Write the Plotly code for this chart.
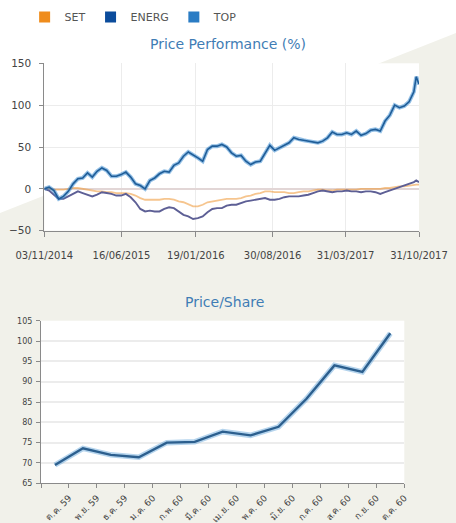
import plotly.graph_objects as go

W, H = 456, 523

# ---------------- data: Price Performance (%) ----------------
perf_dates = [
    "2014-11-03", "2014-11-17", "2014-12-01", "2014-12-15", "2014-12-29",
    "2015-01-12", "2015-01-26", "2015-02-09", "2015-02-23", "2015-03-09",
    "2015-03-23", "2015-04-06", "2015-04-20", "2015-05-04", "2015-05-18",
    "2015-06-01", "2015-06-15", "2015-06-29", "2015-07-13", "2015-07-27",
    "2015-08-10", "2015-08-24", "2015-09-07", "2015-09-21", "2015-10-05",
    "2015-10-19", "2015-11-02", "2015-11-16", "2015-11-30", "2015-12-14",
    "2015-12-28", "2016-01-11", "2016-01-25", "2016-02-08", "2016-02-22",
    "2016-03-07", "2016-03-21", "2016-04-04", "2016-04-18", "2016-05-02",
    "2016-05-16", "2016-05-30", "2016-06-13", "2016-06-27", "2016-07-11",
    "2016-07-25", "2016-08-08", "2016-08-22", "2016-09-05", "2016-09-19",
    "2016-10-03", "2016-10-17", "2016-10-31", "2016-11-14", "2016-11-28",
    "2016-12-12", "2016-12-26", "2017-01-09", "2017-01-23", "2017-02-06",
    "2017-02-20", "2017-03-06", "2017-03-20", "2017-04-03", "2017-04-17",
    "2017-05-01", "2017-05-15", "2017-05-29", "2017-06-12", "2017-06-26",
    "2017-07-10", "2017-07-24", "2017-08-07", "2017-08-21", "2017-09-04",
    "2017-09-18", "2017-10-02", "2017-10-16", "2017-10-23", "2017-10-31",
]
top_vals = [
    0, 2, -2, -12, -9, -3, 6, 12, 13, 19,
    14, 21, 25, 22, 15, 15, 17, 20, 14, 6,
    4, 0, 10, 13, 18, 21, 20, 28, 31, 39,
    44, 41, 37, 33, 47, 51, 51, 53, 50, 43,
    39, 40, 33, 29, 32, 33, 42, 52, 46, 49,
    52, 55, 61, 59, 58, 57, 56, 55, 57, 61,
    68, 65, 65, 67, 65, 69, 64, 66, 70, 71,
    69, 81, 88, 100, 97, 99, 104, 116, 134, 125,
]
energ_vals = [
    0, -2, -7, -12, -12, -9, -6, -3, -5, -7,
    -9, -7, -4, -5, -6, -8, -8, -6, -10, -16,
    -24, -27, -26, -27, -27, -24, -22, -23, -27, -31,
    -33, -36, -35, -33, -28, -24, -23, -23, -20, -19,
    -19, -17, -15, -14, -13, -12, -11, -13, -13, -12,
    -10, -9, -9, -9, -8, -7, -5, -3, -2, -3,
    -4, -3, -3, -2, -3, -3, -4, -3, -3, -4,
    -6, -4, -2, 0, 2, 4, 6, 8, 10, 8,
]
set_vals = [
    0, 0, -1, -1, -1, 0, 1, 1, 0, -1,
    -2, -3, -3, -4, -4, -5, -5, -5, -6, -8,
    -11, -13, -13, -13, -13, -12, -12, -13, -15, -16,
    -19, -21, -21, -19, -16, -15, -14, -13, -12, -12,
    -12, -11, -9, -8, -6, -5, -3, -3, -4, -4,
    -4, -5, -5, -4, -3, -3, -2, -1, -1, -2,
    -2, -1, -1, -1, -1, -1, 0, 0, 0, 0,
    0, 1, 1, 2, 3, 3, 4, 5, 5, 5,
]
perf_tick_dates = ["2014-11-03", "2015-06-16", "2016-01-19",
                   "2016-08-30", "2017-03-31", "2017-10-31"]
perf_tick_text = ["03/11/2014", "16/06/2015", "19/01/2016",
                  "30/08/2016", "31/03/2017", "31/10/2017"]

# ---------------- data: Price/Share ----------------
months = ["ต.ค. 59", "พ.ย. 59", "ธ.ค. 59", "ม.ค. 60", "ก.พ. 60", "มี.ค. 60",
          "เม.ย. 60", "พ.ค. 60", "มิ.ย. 60", "ก.ค. 60", "ส.ค. 60", "ก.ย. 60",
          "ต.ค. 60"]
price_vals = [69.5, 73.6, 72.0, 71.4, 75.0, 75.2, 77.7, 76.8, 78.9,
              85.8, 94.0, 92.4, 101.9]

# ---------------- styling ----------------
FONT = "DejaVu Sans, Noto Sans, sans-serif"
SET_C, ENERG_C, TOP_C = "#ef8c1c", "#0b4c9c", "#2a7cc4"
TITLE_C = "#3f7db5"
GRID_C = "#ececec"
AXIS_C = "#8a8a8a"
BEIGE = "#f1f1ea"

fig = go.Figure()

# performance lines
fig.add_trace(go.Scatter(x=perf_dates, y=set_vals, mode="lines",
                         line=dict(color="rgba(239,150,50,0.55)", width=1.8),
                         showlegend=False, hoverinfo="skip"))
fig.add_trace(go.Scatter(x=perf_dates, y=energ_vals, mode="lines",
                         line=dict(color="#5d5f95", width=1.9),
                         showlegend=False, hoverinfo="skip"))
fig.add_trace(go.Scatter(x=perf_dates, y=top_vals, mode="lines",
                         line=dict(color="rgba(60,140,210,0.55)", width=4),
                         showlegend=False, hoverinfo="skip"))
fig.add_trace(go.Scatter(x=perf_dates, y=top_vals, mode="lines",
                         line=dict(color="#1f5d98", width=1.6),
                         showlegend=False, hoverinfo="skip"))

# legend entries (square swatches)
for name, col in [("SET", SET_C), ("ENERG", ENERG_C), ("TOP", TOP_C)]:
    fig.add_trace(go.Scatter(x=[None], y=[None], mode="markers", name=name,
                             marker=dict(symbol="square", size=11, color=col),
                             showlegend=True))

# price/share line
idx = list(range(len(months)))
fig.add_trace(go.Scatter(x=idx, y=price_vals, mode="lines", xaxis="x2", yaxis="y2",
                         line=dict(color="rgba(90,160,215,0.45)", width=5.5),
                         showlegend=False, hoverinfo="skip"))
fig.add_trace(go.Scatter(x=idx, y=price_vals, mode="lines", xaxis="x2", yaxis="y2",
                         line=dict(color="#2c5f8e", width=2.4),
                         showlegend=False, hoverinfo="skip"))

bound_vals = [i - 0.5 for i in range(len(months) + 1)]
bound_text = [""] + months

fig.update_layout(
    width=W, height=H,
    margin=dict(l=0, r=0, t=0, b=0, autoexpand=False),
    paper_bgcolor=BEIGE,
    plot_bgcolor="white",
    font=dict(family=FONT, color="#505050", size=10),
    showlegend=True,
    legend=dict(orientation="h", x=0.054, y=0.995, xanchor="left", yanchor="top",
                font=dict(size=11, color="#555555", family=FONT),
                bgcolor="rgba(0,0,0,0)", itemclick=False, itemdoubleclick=False,
                tracegroupgap=0),
    xaxis=dict(domain=[44.3 / W, 419 / W], anchor="y", type="date",
               range=["2014-11-03", "2017-10-31"], automargin=False,
               tickvals=perf_tick_dates, ticktext=perf_tick_text,
               tickfont=dict(size=10, color="#444444"),
               showgrid=True, gridcolor=GRID_C, gridwidth=1,
               showline=True, linecolor=AXIS_C, linewidth=1,
               ticks="outside", ticklen=5, tickcolor=AXIS_C, tickwidth=1,
               ticklabelstandoff=10, zeroline=False, fixedrange=True),
    yaxis=dict(domain=[1 - 230.7 / H, 1 - 63.3 / H], anchor="x",
               range=[-50, 150], tickvals=[-50, 0, 50, 100, 150],
               automargin=False, ticklabelstandoff=6,
               tickfont=dict(size=10.5, color="#444444"),
               showgrid=True, gridcolor=GRID_C, gridwidth=1,
               zeroline=True, zerolinecolor="#e2d6d6", zerolinewidth=1.5,
               showline=True, linecolor=AXIS_C, linewidth=1,
               ticks="outside", ticklen=4, tickcolor=AXIS_C, fixedrange=True),
    xaxis2=dict(domain=[41 / W, 404.3 / W], anchor="y2",
                range=[-0.5, len(months) - 0.5], automargin=False,
                tickvals=bound_vals, ticktext=bound_text, tickangle=-45,
                tickfont=dict(size=9, color="#444444"), ticklabelstandoff=1,
                showgrid=False, zeroline=False,
                showline=True, linecolor=AXIS_C, linewidth=1,
                ticks="outside", ticklen=4, tickcolor=AXIS_C, fixedrange=True),
    yaxis2=dict(domain=[1 - 483.3 / H, 1 - 320.7 / H], anchor="x2",
                range=[65, 105], dtick=5, automargin=False, ticklabelstandoff=2,
                tickfont=dict(size=8, color="#444444"),
                showgrid=True, gridcolor=GRID_C, gridwidth=1.5, zeroline=False,
                showline=True, linecolor=AXIS_C, linewidth=1,
                ticks="outside", ticklen=4, tickcolor=AXIS_C, fixedrange=True),
    shapes=[
        # white diagonal backdrop behind the upper chart
        dict(type="path", xref="paper", yref="paper", layer="below",
             path="M 0 1 L 1 1 L 1 {:.4f} L 0 {:.4f} Z".format(1 - 33 / H, 1 - 213 / H),
             fillcolor="white", line=dict(width=0)),
    ],
    annotations=[
        dict(text="Price Performance (%)", xref="paper", yref="paper",
             x=228 / W, y=1 - 44 / H, xanchor="center", yanchor="middle",
             showarrow=False, font=dict(size=14, color=TITLE_C, family=FONT)),
        dict(text="Price/Share", xref="paper", yref="paper",
             x=224 / W, y=1 - 302 / H, xanchor="center", yanchor="middle",
             showarrow=False, font=dict(size=14, color=TITLE_C, family=FONT)),
    ],
)

fig.write_html(
    "out.html",
    config={"displayModeBar": False, "responsive": False},
    post_script="document.body.style.margin='0';document.body.style.overflow='hidden';"
                "document.documentElement.style.overflow='hidden';",
)
